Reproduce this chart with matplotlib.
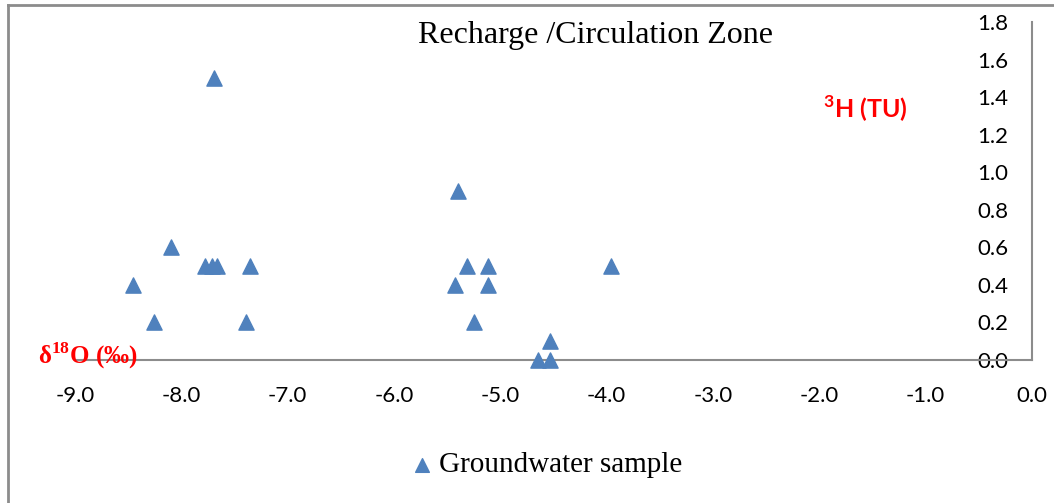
import matplotlib
matplotlib.use("Agg")
import matplotlib.pyplot as plt
from matplotlib.lines import Line2D
from matplotlib.ticker import FormatStrFormatter
import numpy as np

# groundwater samples: d18O (permil) vs tritium (TU)
d18o = [-7.69, -5.40, -8.10, -7.78, -7.71, -7.66, -7.35, -8.45, -8.26, -7.39,
        -5.31, -5.12, -5.43, -5.12, -5.25, -4.53, -4.65, -4.53, -3.96]
tritium = [1.5, 0.9, 0.6, 0.5, 0.5, 0.5, 0.5, 0.4, 0.2, 0.2,
           0.5, 0.5, 0.4, 0.4, 0.2, 0.1, 0.0, 0.0, 0.5]
x_ticks = np.arange(-9, 0.5, 1.0)
y_ticks = np.arange(0, 1.81, 0.2)

plt.rcParams['axes.unicode_minus'] = False
plt.rcParams['mathtext.fontset'] = 'custom'
plt.rcParams['mathtext.bf'] = 'Liberation Serif:bold'
plt.rcParams['mathtext.sf'] = 'Lato:bold'

W, H = 1054, 503
fig = plt.figure(figsize=(W / 100, H / 100), dpi=100)
ax = fig.add_axes([75 / W, 1 - 360 / H, (1032 - 75) / W, (360 - 22) / H])

blue = '#4F81BD'
grey = '#8C8C8C'
ax.scatter(d18o, tritium, marker='^', s=120, color=blue, clip_on=False,
           zorder=3, label='Groundwater sample')

ax.set_xlim(-9, 0)
ax.set_ylim(0, 1.8)
ax.set_xticks(x_ticks)
ax.set_yticks(y_ticks)
ax.xaxis.set_major_formatter(FormatStrFormatter('%.1f'))
ax.yaxis.set_major_formatter(FormatStrFormatter('%.1f'))

for s in ['top', 'right']:
    ax.spines[s].set_visible(False)
ax.spines['left'].set_position(('data', 0))
ax.spines['left'].set_color(grey)
ax.spines['bottom'].set_color(grey)
ax.spines['left'].set_linewidth(1.5)
ax.spines['bottom'].set_linewidth(1.5)
ax.tick_params(axis='both', length=0, labelsize=16)
ax.tick_params(axis='x', pad=19)
ax.tick_params(axis='y', pad=17)
for lab in ax.get_xticklabels() + ax.get_yticklabels():
    lab.set_fontfamily('Lato')

# outer frame (top and left edges only visible)
fig.add_artist(Line2D([8 / W, 8 / W], [0, 1 - 5 / H], color=grey, lw=2))
fig.add_artist(Line2D([8 / W, 1], [1 - 5 / H, 1 - 5 / H], color=grey, lw=2))

fig.text(596 / W, 1 - 43 / H, 'Recharge /Circulation Zone', ha='center',
         va='baseline', family='Liberation Serif', fontsize=23)
fig.text(38 / W, 1 - 364 / H, r'δ$^{\mathbf{18}}$O (‰)', ha='left', va='baseline',
         family='Liberation Serif', weight='bold', color='red', fontsize=18)
fig.text(823 / W, 1 - 118 / H, r'${}^{\mathsf{3}}$H (TU)', ha='left', va='baseline',
         family='Lato', weight='bold', color='red', fontsize=18)

ax.legend(loc='center', bbox_to_anchor=(545 / W, 1 - 465 / H),
          bbox_transform=fig.transFigure, frameon=False, handletextpad=0.1,
          handlelength=1.0, borderpad=0, markerscale=0.9,
          prop={'family': 'Liberation Serif', 'size': 21})

fig.savefig('out.png', dpi=100)
